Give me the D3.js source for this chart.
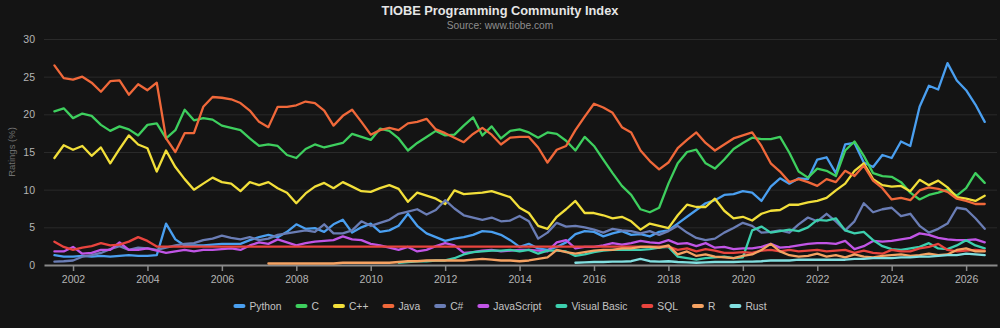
<!DOCTYPE html>
<html lang="en">
<head>
	<meta charset="UTF-8">
	<title>TIOBE index</title>
	<style>
		body { margin: 0; background: #141414; }
		text { font-family: "Liberation Sans", Arial, sans-serif; }
	</style>
</head>
<body>
	<svg id="chart" width="1000" height="328"></svg>
<script src="https://cdn.jsdelivr.net/npm/d3@7"></script>
<script>
	// quarterly samples, 2001.5 .. 2026.5
	let years = d3.range(101).map(i => 2001.5 + i * 0.25);
	let xTicks = d3.range(2002, 2027, 2);
	let yTicks = [0, 5, 10, 15, 20, 25, 30];

	let python = [
		1.3, 1.1, 1.1, 1.2, 1.1, 1.2, 1.1, 1.2, 1.3, 1.2,
		1.2, 1.3, 5.5, 3.4, 2.6, 2.6, 2.6, 2.7, 2.8, 2.8,
		2.8, 3.3, 3.7, 4.0, 3.7, 4.4, 5.4, 4.8, 4.9, 4.4,
		5.4, 6.0, 4.3, 5.0, 5.5, 4.4, 4.6, 5.2, 6.8, 5.2,
		4.2, 3.7, 3.2, 3.5, 3.7, 4.0, 4.5, 4.4, 4.0, 3.3,
		2.4, 2.8, 2.2, 2.0, 2.4, 3.0, 4.1, 4.5, 4.4, 3.8,
		4.2, 4.5, 4.0, 4.1, 3.8, 4.4, 4.6, 5.5, 6.4, 7.3,
		8.2, 8.6, 9.3, 9.4, 9.8, 9.6, 8.5, 10.4, 11.5, 10.8,
		11.5, 11.4, 14.0, 14.3, 12.2, 16.0, 16.2, 13.6, 13.0, 14.6,
		14.2, 16.4, 15.8, 21.0, 23.8, 23.3, 26.8, 24.5, 23.2, 21.3,
		19.0];
	let cLang = [
		20.4, 20.8, 19.5, 20.1, 19.8, 18.6, 17.8, 18.4, 18.0, 17.2,
		18.6, 18.8, 16.8, 17.9, 20.6, 19.2, 19.5, 19.3, 18.5, 18.2,
		17.9, 16.8, 15.8, 16.0, 15.8, 14.6, 14.2, 15.4, 16.0, 15.6,
		15.9, 16.2, 17.4, 17.0, 16.6, 18.1, 17.8, 16.8, 15.2, 16.2,
		17.0, 17.8, 17.2, 17.3, 18.5, 19.6, 17.2, 18.4, 16.8, 17.8,
		18.0, 17.6, 16.9, 17.6, 17.4, 16.5, 15.2, 17.0, 15.8, 14.0,
		12.2, 10.5, 9.3, 7.4, 7.0, 7.6, 10.8, 13.5, 15.0, 15.3,
		13.5, 12.8, 14.0, 15.4, 16.2, 16.9, 16.7, 16.7, 17.0, 14.9,
		12.4, 11.6, 12.8, 12.5, 11.8, 15.2, 16.4, 14.5, 12.2, 11.8,
		11.7, 11.0, 9.6, 8.7, 9.3, 9.6, 10.0, 9.2, 10.2, 12.2,
		10.9];
	let cpp = [
		14.2, 15.9, 15.3, 15.8, 14.5, 15.6, 13.5, 15.4, 17.2, 16.0,
		15.5, 12.4, 15.2, 13.0, 11.4, 10.0, 10.8, 11.6, 11.0, 10.8,
		9.8, 11.0, 10.6, 11.0, 10.2, 9.6, 8.2, 9.5, 10.4, 10.9,
		10.2, 11.0, 10.4, 9.8, 9.7, 10.2, 10.6, 10.1, 8.4, 9.6,
		9.2, 8.8, 8.1, 9.9, 9.4, 9.5, 9.6, 9.8, 9.4, 9.0,
		7.6, 6.9, 5.2, 4.8, 6.4, 7.4, 8.5, 6.9, 6.9, 6.6,
		6.2, 6.4, 5.8, 4.7, 5.5, 5.2, 4.9, 6.6, 8.0, 7.7,
		7.7, 8.8, 7.2, 6.2, 6.4, 5.9, 6.8, 7.2, 7.3, 8.0,
		8.0, 8.3, 8.5, 8.9, 9.9, 10.8, 12.5, 13.5, 11.4, 10.6,
		10.4, 10.5, 9.8, 11.3, 10.6, 11.2, 10.3, 9.0, 8.8, 8.5,
		9.2];
	let java = [
		26.5, 24.8, 24.6, 25.0, 24.2, 23.0, 24.4, 24.5, 22.6, 24.0,
		23.2, 24.2, 16.8, 15.0, 17.5, 17.5, 21.0, 22.3, 22.2, 22.0,
		21.5, 20.5, 19.0, 18.3, 21.0, 21.0, 21.2, 21.7, 21.5, 20.5,
		18.5, 19.8, 20.6, 19.0, 17.3, 17.9, 18.2, 17.9, 18.8, 19.0,
		19.4, 18.0, 17.5, 16.9, 16.3, 17.4, 18.2, 17.3, 16.0, 16.9,
		17.0, 17.0, 15.6, 13.6, 15.3, 15.8, 17.9, 19.7, 21.4, 20.9,
		20.2, 18.3, 17.6, 15.2, 13.8, 12.7, 13.6, 15.5, 16.6, 17.6,
		16.2, 15.2, 16.0, 16.8, 17.2, 17.6, 15.8, 13.5, 12.4, 11.0,
		11.4, 11.0, 10.5, 11.4, 11.0, 12.5, 11.8, 13.2, 11.2, 10.2,
		8.7, 8.9, 8.6, 9.9, 10.3, 10.1, 9.7, 8.8, 8.5, 8.1,
		8.1];
	let csharp = [
		0.45, 0.5, 0.6, 1.1, 1.3, 1.6, 2.1, 2.5, 2.0, 2.3,
		2.2, 2.0, 2.3, 2.6, 2.8, 2.9, 3.3, 3.5, 3.9, 3.6,
		3.4, 3.7, 3.3, 3.5, 4.0, 4.2, 4.4, 4.6, 4.4, 5.4,
		4.2, 4.2, 4.6, 5.8, 5.2, 5.6, 6.0, 6.8, 7.1, 7.4,
		6.7, 7.3, 8.6, 7.5, 6.6, 6.3, 6.0, 6.3, 5.8, 5.9,
		6.5, 5.8, 3.5, 4.3, 5.6, 5.1, 5.2, 5.0, 4.7, 4.3,
		4.8, 4.6, 4.5, 4.2, 4.5, 4.0, 4.5, 5.2, 4.3, 3.6,
		3.3, 3.5, 4.3, 4.9, 5.6, 5.2, 4.3, 4.4, 4.6, 4.3,
		5.4, 6.3, 5.8, 6.8, 5.8, 4.6, 5.8, 8.2, 7.0, 7.4,
		7.6, 6.5, 6.8, 5.2, 4.3, 4.8, 5.5, 7.6, 7.4, 6.2,
		4.8];
	let javascript = [
		1.8, 1.8, 2.4, 1.5, 1.6, 2.0, 2.0, 3.0, 2.0, 2.0,
		2.2, 1.9, 1.6, 1.8, 2.0, 1.8, 2.0, 2.0, 2.1, 2.2,
		2.0, 2.6, 3.0, 2.8, 3.4, 3.0, 2.6, 2.9, 3.1, 3.2,
		3.3, 3.8, 3.4, 3.3, 2.8, 2.6, 2.3, 2.0, 2.4, 1.8,
		2.0, 2.5, 2.9, 2.6, 1.6, 1.7, 1.9, 2.0, 1.8, 1.9,
		2.0, 2.0, 1.9, 1.8, 3.0, 3.3, 2.2, 2.4, 2.4, 2.6,
		2.9, 2.7, 2.9, 3.2, 3.0, 2.9, 3.3, 2.8, 2.9, 2.5,
		2.9, 2.3, 2.4, 2.1, 2.2, 2.2, 2.4, 2.8, 2.3, 2.4,
		2.6, 2.8, 2.9, 2.9, 2.8, 3.2, 2.1, 2.5, 3.2, 3.1,
		3.2, 3.4, 3.6, 4.2, 4.0, 3.6, 3.4, 3.3, 3.3, 3.4,
		3.0];
	// no ratings before late 2010
	let visualBasic = [
		null, null, null, null, null, null, null, null, null, null,
		null, null, null, null, null, null, null, null, null, null,
		null, null, null, null, null, null, null, null, null, null,
		null, null, null, null, null, null, null, 0.3, 0.4, 0.5,
		0.5, 0.6, 0.6, 0.9, 1.4, 1.7, 1.8, 1.9, 1.9, 2.0,
		1.8, 2.0, 1.5, 1.9, 1.9, 1.8, 1.2, 1.4, 1.7, 1.9,
		2.0, 2.0, 2.0, 2.0, 2.1, 2.3, 2.4, 1.1, 0.9, 0.7,
		0.9, 1.0, 1.1, 0.9, 1.0, 4.6, 5.1, 4.3, 4.5, 4.7,
		4.5, 5.0, 6.0, 5.9, 6.2, 4.6, 4.2, 4.4, 3.3, 2.5,
		2.1, 2.0, 2.2, 2.4, 2.9, 2.2, 2.1, 2.6, 3.3, 2.6,
		2.2];
	// gap 2004-2018: the line just joins the two ends
	let sql = [
		3.1, 2.4, 2.0, 2.3, 2.5, 2.9, 2.6, 2.7, 3.1, 3.7,
		3.2, 2.45, null, null, null, null, null, null, null, null,
		null, null, null, null, null, null, null, null, null, null,
		null, null, null, null, null, null, null, null, null, null,
		null, null, null, null, null, null, null, null, null, null,
		null, null, null, null, null, null, null, null, null, null,
		null, null, null, null, null, null, 2.45, 2.0, 2.2, 1.8,
		2.1, 1.9, 1.6, 1.6, 1.7, 1.6, 1.9, 2.0, 1.8, 2.0,
		1.8, 1.9, 2.0, 1.8, 1.9, 2.0, 1.6, 1.9, 1.6, 1.5,
		2.0, 1.8, 1.8, 2.2, 2.4, 2.8, 2.0, 1.8, 1.9, 2.0,
		1.9];
	let rLang = [
		null, null, null, null, null, null, null, null, null, null,
		null, null, null, null, null, null, null, null, null, null,
		null, null, null, 0.2, 0.2, 0.2, 0.2, 0.2, 0.2, 0.2,
		0.2, 0.3, 0.3, 0.3, 0.3, 0.3, 0.3, 0.4, 0.5, 0.5,
		0.6, 0.6, 0.6, 0.6, 0.6, 0.7, 0.8, 0.7, 0.6, 0.6,
		0.5, 0.6, 0.8, 1.0, 2.0, 1.7, 1.5, 1.7, 1.9, 2.0,
		2.0, 2.2, 2.2, 2.4, 2.4, 2.3, 2.6, 1.4, 1.8, 1.2,
		1.4, 1.1, 1.0, 0.9, 1.2, 1.4, 2.0, 2.8, 1.8, 1.3,
		1.1, 1.2, 1.5, 1.1, 1.3, 1.0, 1.4, 1.1, 1.0, 1.2,
		1.3, 1.4, 1.2, 1.3, 1.5, 1.3, 1.4, 2.0, 2.2, 1.8,
		1.8];
	let rust = [
		null, null, null, null, null, null, null, null, null, null,
		null, null, null, null, null, null, null, null, null, null,
		null, null, null, null, null, null, null, null, null, null,
		null, null, null, null, null, null, null, null, null, null,
		null, null, null, null, null, null, null, null, null, null,
		null, null, null, null, null, null, 0.3, 0.35, 0.4, 0.4,
		0.45, 0.45, 0.5, 0.8, 0.5, 0.45, 0.5, 0.4, 0.35, 0.3,
		0.35, 0.4, 0.4, 0.4, 0.45, 0.45, 0.5, 0.6, 0.6, 0.6,
		0.7, 0.7, 0.7, 0.7, 0.7, 0.7, 0.8, 0.8, 0.9, 0.9,
		0.9, 1.0, 1.0, 1.1, 1.1, 1.2, 1.3, 1.3, 1.5, 1.4,
		1.3];

	let series = [
		{ name: "Python", values: python, color: "#4a9ff0" },
		{ name: "C", values: cLang, color: "#3ecf5e" },
		{ name: "C++", values: cpp, color: "#f2df3a" },
		{ name: "Java", values: java, color: "#f0683a" },
		{ name: "C#", values: csharp, color: "#6a7db5" },
		{ name: "JavaScript", values: javascript, color: "#c155e6" },
		{ name: "Visual Basic", values: visualBasic, color: "#3dcfae" },
		{ name: "SQL", values: sql, color: "#e8443e" },
		{ name: "R", values: rLang, color: "#f5a262" },
		{ name: "Rust", values: rust, color: "#82dfe0" }
	];

	let svg = d3.select("#chart");
	let plotLeft = 44, plotRight = 997, plotTop = 39, plotBottom = 265;

	let x = d3.scaleLinear().domain([2001.22, 2026.83]).range([plotLeft, plotRight]);
	let y = d3.scaleLinear().domain([0, 30]).range([plotBottom, plotTop]);

	// title
	svg.append("text")
		.attr("x", 500).attr("y", 15)
		.attr("text-anchor", "middle")
		.attr("font-size", 12.8).attr("font-weight", "bold")
		.attr("fill", "#e6e6e6")
		.text("TIOBE Programming Community Index");
	svg.append("text")
		.attr("x", 500).attr("y", 29)
		.attr("text-anchor", "middle")
		.attr("font-size", 10.2)
		.attr("fill", "#8e8e8e")
		.text("Source: www.tiobe.com");

	// grid + y axis
	let yAxis = svg.append("g")
		.attr("transform", `translate(${plotLeft},0)`)
		.call(d3.axisLeft(y).tickValues(yTicks).tickSize(-(plotRight - plotLeft)).tickPadding(9));
	yAxis.select(".domain").remove();
	yAxis.selectAll(".tick line")
		.attr("stroke", "#2a2a2a")
		.filter(d => d === 0).remove();
	yAxis.selectAll(".tick text")
		.attr("fill", "#b4b4b4").attr("font-size", 10.5)
		.style("font-family", "Liberation Sans, Arial, sans-serif");

	svg.append("text")
		.attr("transform", `translate(15,${(plotTop + plotBottom) / 2}) rotate(-90)`)
		.attr("text-anchor", "middle")
		.attr("font-size", 9.5)
		.attr("fill", "#707070")
		.text("Ratings (%)");

	// x axis
	let xAxis = svg.append("g")
		.attr("transform", `translate(0,${plotBottom})`)
		.call(d3.axisBottom(x).tickValues(xTicks).tickFormat(d3.format("d")).tickSize(6).tickSizeOuter(0).tickPadding(5));
	xAxis.select(".domain").attr("stroke", "#8a8a8a").attr("stroke-width", 2);
	xAxis.selectAll(".tick line").attr("stroke", "#8a8a8a").attr("stroke-width", 1.5);
	xAxis.selectAll(".tick text")
		.attr("fill", "#b4b4b4").attr("font-size", 10.5)
		.style("font-family", "Liberation Sans, Arial, sans-serif");

	// lines
	let line = d3.line()
		.x(d => x(d[0]))
		.y(d => y(d[1]));

	svg.append("g")
		.selectAll("path")
		.data(series)
		.enter()
		.append("path")
		.attr("fill", "none")
		.attr("stroke", d => d.color)
		.attr("stroke-width", 2.3)
		.attr("stroke-linejoin", "round")
		.attr("stroke-linecap", "round")
		.attr("d", d => line(years.map((yr, i) => [yr, d.values[i]]).filter(p => p[1] != null)));

	// legend, centred
	let legend = svg.append("g");
	let pos = 0;
	series.forEach(s => {
		let item = legend.append("g").attr("transform", `translate(${pos},0)`);
		item.append("rect")
			.attr("x", 0).attr("y", -2)
			.attr("width", 12).attr("height", 4).attr("rx", 2)
			.attr("fill", s.color);
		let t = item.append("text")
			.attr("x", 16).attr("y", 0)
			.attr("dy", "0.35em")
			.attr("font-size", 10.3)
			.attr("fill", "#c4c4c4")
			.text(s.name);
		pos += 16 + t.node().getComputedTextLength() + 14;
	});
	pos -= 14;
	legend.attr("transform", `translate(${500 - pos / 2},306)`);
</script>
</body>
</html>
